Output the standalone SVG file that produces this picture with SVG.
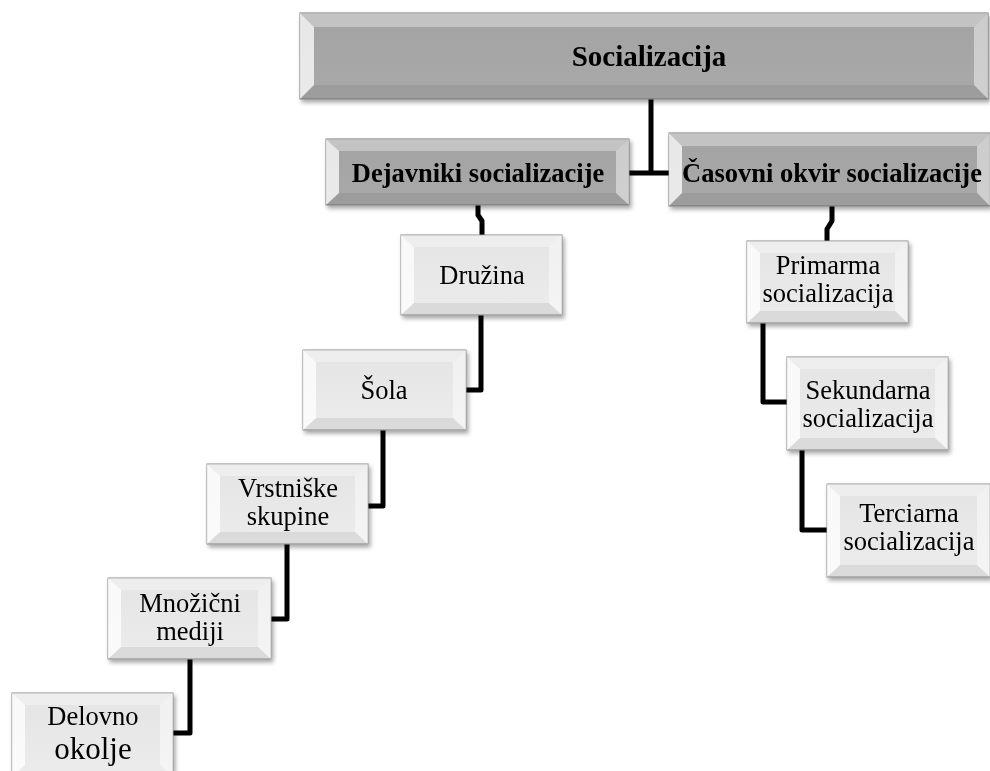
<svg xmlns="http://www.w3.org/2000/svg" width="990" height="771" viewBox="0 0 990 771">
<defs>
<filter id="sh" x="-10%" y="-10%" width="130%" height="140%">
<feDropShadow dx="2" dy="3" stdDeviation="2" flood-color="#000" flood-opacity="0.35"/>
</filter>
<linearGradient id="gLight" x1="0" y1="0" x2="0" y2="1">
<stop offset="0" stop-color="#e4e4e4"/>
<stop offset="1" stop-color="#ececec"/>
</linearGradient>
<linearGradient id="gDark" x1="0" y1="0" x2="0" y2="1">
<stop offset="0" stop-color="#a3a3a3"/>
<stop offset="1" stop-color="#a9a9a9"/>
</linearGradient>
</defs>
<style>
.light{fill:url(#gLight);stroke:#8e8e8e;stroke-width:1}
.dark{fill:url(#gDark);stroke:#7a7a7a;stroke-width:1}
.bl{fill:#fff;fill-opacity:0.75}
.bt{fill:#fff;fill-opacity:0.35}
.br{fill:#fff;fill-opacity:0.45}
.bb{fill:#000;fill-opacity:0.07}
.t{font-family:"Liberation Serif","Times New Roman",serif;font-size:26.5px;fill:#000;text-anchor:middle}
.tb{font-family:"Liberation Serif","Times New Roman",serif;font-size:26.5px;font-weight:bold;fill:#000;text-anchor:middle}
.conn{fill:none;stroke:#000;stroke-width:5;stroke-linejoin:round}
</style>

<g id="connectors">
<path class="conn" d="M651 99 V173 M629 173 H670"/>
<path class="conn" d="M478 205 V215 L482 221 V236"/>
<path class="conn" d="M481 315 V390 H466"/>
<path class="conn" d="M383 430 V506 H368"/>
<path class="conn" d="M287 544 V619 H271"/>
<path class="conn" d="M190 659 V733 H173"/>
<path class="conn" d="M832 206 V221 L827 229 V241"/>
<path class="conn" d="M763 323 V402 H787"/>
<path class="conn" d="M802 450 V530 H827"/>
</g>

<g id="n-socializacija" filter="url(#sh)">
<rect class="dark" x="300" y="13" width="688" height="86"/>
<polygon class="bl" points="300,13 314,27 314,85 300,99"/>
<polygon class="bt" points="300,13 988,13 974,27 314,27"/>
<polygon class="br" points="988,13 988,99 974,85 974,27"/>
<polygon class="bb" points="300,99 314,85 974,85 988,99"/>
<text class="tb" x="649" y="66" style="font-size:29px">Socializacija</text>
</g>

<g id="n-dejavniki" filter="url(#sh)">
<rect class="dark" x="326" y="139" width="303" height="66"/>
<polygon class="bl" points="326,139 339,151 339,193 326,205"/>
<polygon class="bt" points="326,139 629,139 616,151 339,151"/>
<polygon class="br" points="629,139 629,205 616,193 616,151"/>
<polygon class="bb" points="326,205 339,193 616,193 629,205"/>
<text class="tb" x="478" y="182">Dejavniki socializacije</text>
</g>

<g id="n-casovni" filter="url(#sh)">
<rect class="dark" x="669" y="133" width="321" height="73"/>
<polygon class="bl" points="669,133 682,146 682,193 669,206"/>
<polygon class="bt" points="669,133 990,133 977,146 682,146"/>
<polygon class="br" points="990,133 990,206 977,193 977,146"/>
<polygon class="bb" points="669,206 682,193 977,193 990,206"/>
<text class="tb" x="832" y="182">Časovni okvir socializacije</text>
</g>

<g id="n-druzina" filter="url(#sh)">
<rect class="light" x="401" y="235" width="161" height="80"/>
<polygon class="bl" points="401,235 414,247 414,303 401,315"/>
<polygon class="bt" points="401,235 562,235 549,247 414,247"/>
<polygon class="br" points="562,235 562,315 549,303 549,247"/>
<polygon class="bb" points="401,315 414,303 549,303 562,315"/>
<text class="t" x="482" y="284">Družina</text>
</g>

<g id="n-sola" filter="url(#sh)">
<rect class="light" x="303" y="350" width="163" height="80"/>
<polygon class="bl" points="303,350 316,362 316,418 303,430"/>
<polygon class="bt" points="303,350 466,350 453,362 316,362"/>
<polygon class="br" points="466,350 466,430 453,418 453,362"/>
<polygon class="bb" points="303,430 316,418 453,418 466,430"/>
<text class="t" x="384" y="399">Šola</text>
</g>

<g id="n-vrstniske" filter="url(#sh)">
<rect class="light" x="207" y="464" width="161" height="80"/>
<polygon class="bl" points="207,464 220,476 220,532 207,544"/>
<polygon class="bt" points="207,464 368,464 355,476 220,476"/>
<polygon class="br" points="368,464 368,544 355,532 355,476"/>
<polygon class="bb" points="207,544 220,532 355,532 368,544"/>
<text class="t" x="288" y="497">Vrstniške</text>
<text class="t" x="288" y="525">skupine</text>
</g>

<g id="n-mnozicni" filter="url(#sh)">
<rect class="light" x="108" y="578" width="163" height="81"/>
<polygon class="bl" points="108,578 121,590 121,647 108,659"/>
<polygon class="bt" points="108,578 271,578 258,590 121,590"/>
<polygon class="br" points="271,578 271,659 258,647 258,590"/>
<polygon class="bb" points="108,659 121,647 258,647 271,659"/>
<text class="t" x="190" y="612">Množični</text>
<text class="t" x="190" y="640">mediji</text>
</g>

<g id="n-delovno" filter="url(#sh)">
<rect class="light" x="12" y="693" width="161" height="84"/>
<polygon class="bl" points="12,693 25,705 25,765 12,777"/>
<polygon class="bt" points="12,693 173,693 160,705 25,705"/>
<polygon class="br" points="173,693 173,777 160,765 160,705"/>
<text class="t" x="93" y="725">Delovno</text>
<text class="t" x="93" y="759" style="font-size:31px">okolje</text>
</g>

<g id="n-primarma" filter="url(#sh)">
<rect class="light" x="747" y="241" width="161" height="82"/>
<polygon class="bl" points="747,241 760,253 760,311 747,323"/>
<polygon class="bt" points="747,241 908,241 895,253 760,253"/>
<polygon class="br" points="908,241 908,323 895,311 895,253"/>
<polygon class="bb" points="747,323 760,311 895,311 908,323"/>
<text class="t" x="828" y="274">Primarma</text>
<text class="t" x="828" y="302">socializacija</text>
</g>

<g id="n-sekundarna" filter="url(#sh)">
<rect class="light" x="787" y="357" width="161" height="93"/>
<polygon class="bl" points="787,357 800,369 800,438 787,450"/>
<polygon class="bt" points="787,357 948,357 935,369 800,369"/>
<polygon class="br" points="948,357 948,450 935,438 935,369"/>
<polygon class="bb" points="787,450 800,438 935,438 948,450"/>
<text class="t" x="868" y="399">Sekundarna</text>
<text class="t" x="868" y="427">socializacija</text>
</g>

<g id="n-terciarna" filter="url(#sh)">
<rect class="light" x="827" y="484" width="163" height="93"/>
<polygon class="bl" points="827,484 840,496 840,565 827,577"/>
<polygon class="bt" points="827,484 990,484 977,496 840,496"/>
<polygon class="br" points="990,484 990,577 977,565 977,496"/>
<polygon class="bb" points="827,577 840,565 977,565 990,577"/>
<text class="t" x="909" y="522">Terciarna</text>
<text class="t" x="909" y="550">socializacija</text>
</g>
</svg>
